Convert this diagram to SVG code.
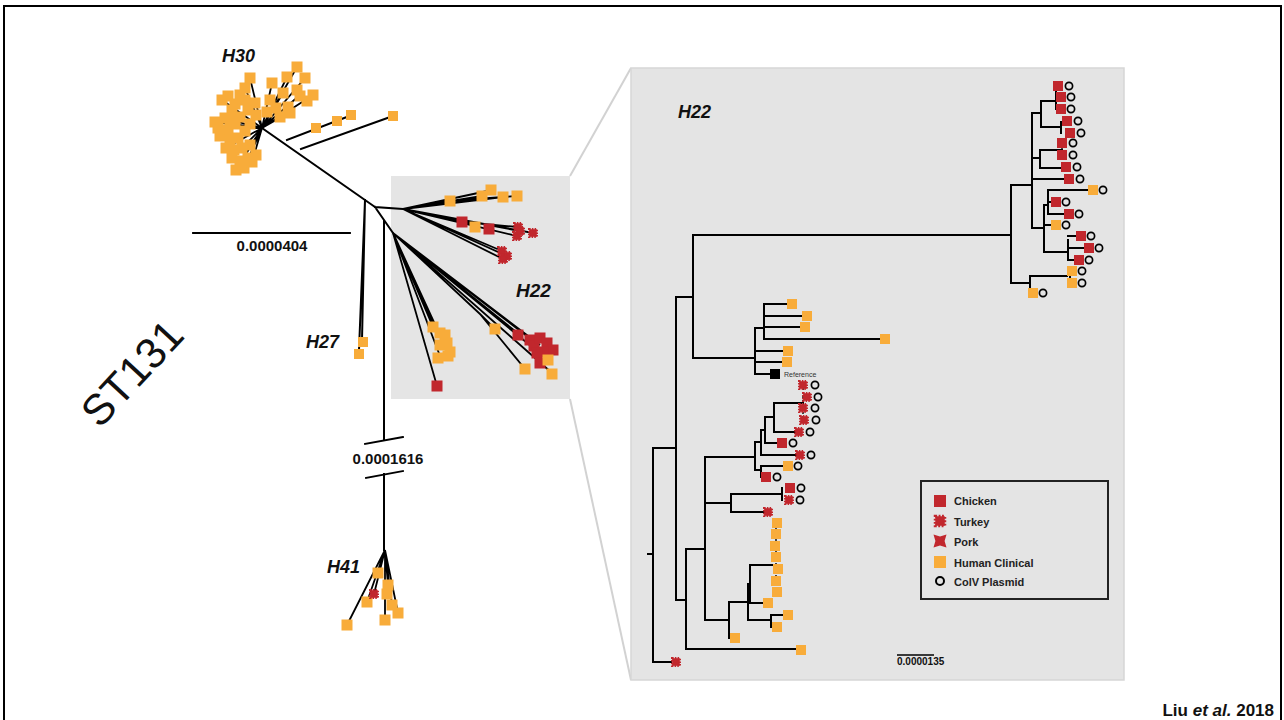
<svg xmlns="http://www.w3.org/2000/svg" xmlns:xlink="http://www.w3.org/1999/xlink" width="1284" height="720" viewBox="0 0 1284 720">
<style>
.br{fill:none;stroke:#000;stroke-width:2;stroke-linecap:square}
.lb{fill:none;stroke:#000;stroke-width:1.8}
.c{fill:#c1272d}
.h{fill:#f8ac3a}
.k{fill:#000}
.t{font-family:"Liberation Sans",Arial,sans-serif;font-weight:bold;fill:#111}
.hl{font-family:"Liberation Sans",Arial,sans-serif;font-weight:bold;font-style:italic;fill:#111}
.lg{font-family:"Liberation Sans",Arial,sans-serif;font-weight:bold;font-size:11px;fill:#222}
</style>
<defs>
<rect id="sq" x="-5" y="-5" width="10" height="10"/>
<rect id="sqL" x="-5.5" y="-5.5" width="11" height="11"/>
<rect id="tk" x="-3.8" y="-3.8" width="7.6" height="7.6" fill="#c1272d" stroke="#c1272d" stroke-width="2.4" stroke-dasharray="1.5 1.2"/>
<polygon id="pk" points="-6.5,-6.5 0,-4.6 6.5,-6.5 4.6,0 6.5,6.5 0,4.6 -6.5,6.5 -4.6,0" fill="#c1272d"/>
<circle id="ci" r="3.6" fill="none" stroke="#000" stroke-width="1.7"/>
</defs>

<rect x="4" y="6" width="1277" height="730" fill="#fff" stroke="#000" stroke-width="2"/>

<g id="zoom-links">
<line x1="570" y1="176" x2="631" y2="68" stroke="#d2d2d2" stroke-width="2"/>
<line x1="570" y1="399" x2="631" y2="680" stroke="#d2d2d2" stroke-width="2"/>
</g>

<g id="small-box"><rect x="391" y="176" width="179" height="223" fill="#e5e5e5"/></g>
<g id="big-panel"><rect x="631" y="68" width="493" height="612" fill="#e4e4e4" stroke="#d6d6d6" stroke-width="1.5"/></g>

<g id="st131"><text class="t" style="font-weight:normal" font-size="43" text-anchor="middle" transform="translate(132,373) rotate(-47)" y="15">ST131</text></g>

<g id="connectors">
<path class="br" d="M262,128 L375,207 M287,140 L352,115 M301,149 L393,116 M365,200 L362,340 M365,200 L359,350 M375,207 L403,209 M375,207 L393,233 M384,221 V440 M384,474 V550"/>
<path class="lb" d="M262,128 L222,100 M262,128 L245,88 M262,128 L250,78 M262,128 L218,128 M262,128 L215,122 M262,128 L226,148 M262,128 L232,158 M262,128 L240,162 M262,128 L236,170 M262,128 L252,162 M262,128 L297,67 M262,128 L305,78 M262,128 L313,95 M262,128 L287,77 M262,128 L272,83 M262,128 L290,112 M262,128 L230,120 M262,128 L244,168 M262,128 L300,95 M262,128 L283,93"/>
<path class="lb" d="M385,550 L347,625 M385,550 L367,602 M385,550 L378,573 M385,550 L388,585 M385,550 L392,605 M385,550 L398,613 M385,550 L385,620 M385,550 L374,594"/>
<path class="lb" d="M403,209 L450,201 L517,196 M403,209 L482,196 M403,209 L492,190 M403,209 L503,197 M403,209 L462,222 L518,227 M403,209 L517,236 M403,209 L533,233 M403,209 L520,231 M403,209 L502,251 M403,209 L507,256 M403,209 L503,259 M393,233 L437,386 M393,233 L433,327 M393,233 L438,336 M393,233 L444,344 M393,233 L440,356 M393,233 L480,314 L495,329 M480,314 L525,369 M393,233 L520,335 M393,233 L532,340 M393,233 L540,345 M393,233 L548,360 M393,233 L552,373"/>
<path class="br" style="stroke-width:1.8" d="M193,233 H350 M365,444 L403,437 M366,478 L403,471"/>
<path class="br" d="M648,554 H653 M653,448 V662 M653,448 H676 M653,662 H671 M676,297 V600 M676,297 H693 M676,600 H686 M693,235 V358 M693,235 H1011 M693,358 H755 M755,328 V374 M755,328 H764 M764,304 V339 M764,304 H787 M764,316 H802 M764,327 H800 M764,339 H880 M755,351 H783 M755,362 H782 M755,374 H770
M686,549 V649 M686,549 H705 M686,649 H796 M705,457 V620 M705,457 H755 M755,442 V470 M755,442 H761 M761,430 V455 M761,430 H765 M765,417 V443 M765,417 H774 M774,403 V432 M774,403 H803 M774,432 H795 M765,443 H777 M761,455 H796 M755,470 H761 M761,466 V477 M761,466 H783 M761,477 H762
M705,503 H731 M731,494 V512 M731,494 H782 M782,488 V500 M731,512 H764 M705,620 H729 M729,602 V638 M729,638 H731 M729,602 H748 M748,584 V620 M748,584 H750 M750,565 V603 M750,565 H775 M750,603 H763 M748,620 H771 M771,615 V627 M771,615 H783 M771,627 H772
M1011,185 V283 M1011,185 H1032 M1032,113 V228 M1032,113 H1041 M1041,101 V127 M1041,101 H1056 M1056,88 V109 M1041,127 H1061 M1061,122 V133 M1032,158 H1040 M1040,150 V168 M1040,150 H1062 M1040,168 H1061 M1032,179 H1064 M1032,228 H1044 M1044,205 V252 M1044,205 H1048 M1048,190 V214 M1048,190 H1088 M1048,202 H1051 M1048,214 H1064 M1044,225 H1051 M1044,252 H1068 M1068,240 V260 M1068,236 H1076 M1068,248 H1084 M1068,260 H1074 M1011,283 H1030 M1030,276 V293 M1030,276 H1067 M1070,271 V283"/>
<path stroke="#000" stroke-width="1.4" d="M803,388 V420 M776,523 V592 M1062,143 V155" stroke-dasharray="2 2"/>
<line x1="897" y1="655" x2="934" y2="655" stroke="#000" stroke-width="1.5"/>
</g>

<g id="node-h30">
<text class="hl" x="222" y="62" font-size="18">H30</text>
<g class="h">
<use href="#sqL" x="222" y="100"/><use href="#sqL" x="228" y="96"/><use href="#sqL" x="235" y="104"/><use href="#sqL" x="245" y="88"/><use href="#sqL" x="250" y="78"/><use href="#sqL" x="240" y="95"/><use href="#sqL" x="232" y="110"/><use href="#sqL" x="225" y="118"/><use href="#sqL" x="218" y="128"/><use href="#sqL" x="220" y="136"/><use href="#sqL" x="228" y="130"/><use href="#sqL" x="235" y="124"/><use href="#sqL" x="240" y="117"/><use href="#sqL" x="248" y="110"/><use href="#sqL" x="255" y="103"/><use href="#sqL" x="245" y="100"/><use href="#sqL" x="230" y="140"/><use href="#sqL" x="238" y="138"/><use href="#sqL" x="245" y="131"/><use href="#sqL" x="250" y="124"/><use href="#sqL" x="226" y="148"/><use href="#sqL" x="234" y="150"/><use href="#sqL" x="242" y="148"/><use href="#sqL" x="250" y="145"/><use href="#sqL" x="232" y="158"/><use href="#sqL" x="240" y="161"/><use href="#sqL" x="248" y="158"/><use href="#sqL" x="256" y="155"/><use href="#sqL" x="236" y="170"/><use href="#sqL" x="244" y="168"/><use href="#sqL" x="252" y="162"/><use href="#sqL" x="215" y="122"/><use href="#sqL" x="230" y="120"/><use href="#sqL" x="256" y="115"/>
<use href="#sqL" x="297" y="67"/><use href="#sqL" x="305" y="78"/><use href="#sqL" x="313" y="95"/><use href="#sqL" x="307" y="101"/><use href="#sqL" x="297" y="90"/><use href="#sqL" x="287" y="77"/><use href="#sqL" x="283" y="93"/><use href="#sqL" x="288" y="107"/><use href="#sqL" x="290" y="113"/><use href="#sqL" x="280" y="117"/><use href="#sqL" x="272" y="83"/><use href="#sqL" x="270" y="100"/><use href="#sqL" x="276" y="108"/><use href="#sqL" x="300" y="96"/><use href="#sqL" x="267" y="112"/>
<use href="#sq" x="316" y="128"/><use href="#sq" x="337" y="121"/><use href="#sq" x="351" y="115"/><use href="#sq" x="393" y="116"/>
</g>
</g>

<g id="node-scale1"><text class="t" x="272" y="251" font-size="15" text-anchor="middle">0.0000404</text></g>
<g id="node-break"><text class="t" x="388" y="464" font-size="15" text-anchor="middle">0.0001616</text></g>

<g id="node-h27">
<text class="hl" x="306" y="348" font-size="18">H27</text>
<g class="h"><use href="#sq" x="363" y="342"/><use href="#sq" x="359" y="354"/></g>
</g>

<g id="node-h41">
<text class="hl" x="327" y="573" font-size="18">H41</text>
<g class="h"><use href="#sqL" x="378" y="573"/><use href="#sqL" x="367" y="602"/><use href="#sqL" x="347" y="625"/><use href="#sqL" x="388" y="585"/><use href="#sqL" x="387" y="594"/><use href="#sqL" x="392" y="605"/><use href="#sqL" x="398" y="613"/><use href="#sqL" x="385" y="620"/></g>
<use href="#tk" x="374" y="594"/>
</g>

<g id="node-h22-small">
<text class="hl" x="516" y="297" font-size="19">H22</text>
<g class="h"><use href="#sqL" x="450" y="201"/><use href="#sqL" x="482" y="196"/><use href="#sqL" x="491" y="190"/><use href="#sqL" x="503" y="197"/><use href="#sqL" x="517" y="196"/><use href="#sqL" x="475" y="227"/>
<use href="#sqL" x="433" y="327"/><use href="#sqL" x="440" y="333"/><use href="#sqL" x="445" y="335"/><use href="#sqL" x="447" y="343"/><use href="#sqL" x="440" y="345"/><use href="#sqL" x="450" y="352"/><use href="#sqL" x="438" y="358"/><use href="#sqL" x="448" y="356"/>
<use href="#sqL" x="495" y="329"/><use href="#sqL" x="525" y="369"/></g>
<g class="c"><use href="#sqL" x="462" y="222"/><use href="#sqL" x="489" y="229"/><use href="#sqL" x="437" y="386"/>
<use href="#sqL" x="518" y="335"/><use href="#sqL" x="530" y="340"/><use href="#sqL" x="534" y="346"/><use href="#sqL" x="540" y="338"/><use href="#sqL" x="547" y="343"/><use href="#sqL" x="553" y="350"/><use href="#sqL" x="543" y="352"/><use href="#sqL" x="537" y="353"/><use href="#sqL" x="540" y="363"/></g>
<use href="#tk" x="518" y="227"/><use href="#tk" x="517" y="236"/><use href="#tk" x="520" y="231"/><use href="#tk" x="533" y="233"/>
<use href="#tk" x="502" y="251"/><use href="#tk" x="507" y="256"/><use href="#tk" x="503" y="259"/>
<g class="h"><use href="#sqL" x="548" y="360"/><use href="#sqL" x="552" y="374"/></g>
</g>

<g id="node-h22-panel">
<text class="hl" x="678" y="118" font-size="18">H22</text>
</g>

<g id="node-clade-reference">
<g class="h"><use href="#sq" x="792" y="304"/><use href="#sq" x="807" y="316"/><use href="#sq" x="805" y="327"/><use href="#sq" x="885" y="339"/><use href="#sq" x="788" y="351"/><use href="#sq" x="787" y="362"/></g>
<use href="#sq" class="k" x="775" y="374"/>
<text x="784" y="377" font-family="Liberation Sans, Arial, sans-serif" font-size="7" fill="#333">Reference</text>
</g>

<g id="node-clade-lower">
<use href="#tk" x="803" y="385"/><use href="#tk" x="807" y="397"/><use href="#tk" x="803" y="408"/><use href="#tk" x="804" y="420"/><use href="#tk" x="799" y="432"/><use href="#tk" x="800" y="455"/><use href="#tk" x="789" y="500"/><use href="#tk" x="768" y="512"/><use href="#tk" x="676" y="662"/>
<g class="c"><use href="#sq" x="782" y="443"/><use href="#sq" x="766" y="477"/><use href="#sq" x="790" y="488"/></g>
<g class="h"><use href="#sq" x="788" y="466"/><use href="#sq" x="777" y="523"/><use href="#sq" x="776" y="534"/><use href="#sq" x="775" y="546"/><use href="#sq" x="776" y="557"/><use href="#sq" x="778" y="569"/><use href="#sq" x="776" y="581"/><use href="#sq" x="777" y="592"/><use href="#sq" x="768" y="603"/><use href="#sq" x="788" y="615"/><use href="#sq" x="777" y="627"/><use href="#sq" x="735" y="638"/><use href="#sq" x="801" y="650"/></g>
<use href="#ci" x="815" y="385"/><use href="#ci" x="818" y="397"/><use href="#ci" x="815" y="408"/><use href="#ci" x="816" y="420"/><use href="#ci" x="810" y="432"/><use href="#ci" x="793" y="443"/><use href="#ci" x="811" y="455"/><use href="#ci" x="798" y="466"/><use href="#ci" x="777" y="477"/><use href="#ci" x="801" y="488"/><use href="#ci" x="800" y="500"/>
</g>

<g id="node-clade-top">
<g class="c"><use href="#sq" x="1058" y="86"/><use href="#sq" x="1061" y="97"/><use href="#sq" x="1061" y="109"/><use href="#sq" x="1067" y="121"/><use href="#sq" x="1070" y="133"/><use href="#sq" x="1062" y="143"/><use href="#sq" x="1062" y="155"/><use href="#sq" x="1066" y="167"/><use href="#sq" x="1069" y="179"/><use href="#sq" x="1056" y="202"/><use href="#sq" x="1069" y="214"/><use href="#sq" x="1081" y="236"/><use href="#sq" x="1089" y="248"/><use href="#sq" x="1079" y="260"/></g>
<g class="h"><use href="#sq" x="1093" y="190"/><use href="#sq" x="1056" y="225"/><use href="#sq" x="1072" y="271"/><use href="#sq" x="1072" y="283"/><use href="#sq" x="1033" y="293"/></g>
<use href="#ci" x="1069" y="86"/><use href="#ci" x="1071" y="97"/><use href="#ci" x="1071" y="109"/><use href="#ci" x="1078" y="121"/><use href="#ci" x="1081" y="133"/><use href="#ci" x="1073" y="143"/><use href="#ci" x="1073" y="155"/><use href="#ci" x="1077" y="167"/><use href="#ci" x="1080" y="179"/><use href="#ci" x="1103" y="190"/><use href="#ci" x="1066" y="202"/><use href="#ci" x="1079" y="214"/><use href="#ci" x="1066" y="225"/><use href="#ci" x="1091" y="236"/><use href="#ci" x="1099" y="248"/><use href="#ci" x="1089" y="260"/><use href="#ci" x="1082" y="271"/><use href="#ci" x="1082" y="283"/><use href="#ci" x="1043" y="293"/>
</g>

<g id="node-scale2"><text class="t" x="897" y="665" font-size="10">0.0000135</text></g>

<g id="node-legend">
<rect x="921" y="481" width="187" height="118" fill="none" stroke="#222" stroke-width="2"/>
<rect x="934" y="495" width="12" height="12" class="c"/>
<use href="#tk" transform="translate(940,521) scale(1.25)"/>
<use href="#pk" x="940" y="541"/>
<rect x="934" y="556" width="12" height="12" class="h"/>
<circle cx="940" cy="581" r="4" fill="none" stroke="#000" stroke-width="2"/>
<text class="lg" x="954" y="505">Chicken</text>
<text class="lg" x="954" y="526">Turkey</text>
<text class="lg" x="954" y="546">Pork</text>
<text class="lg" x="954" y="567">Human Clinical</text>
<text class="lg" x="954" y="586">ColV Plasmid</text>
</g>

<g id="node-citation"><text class="t" x="1274" y="716" font-size="17" text-anchor="end">Liu <tspan font-style="italic">et al.</tspan> 2018</text></g>
</svg>
